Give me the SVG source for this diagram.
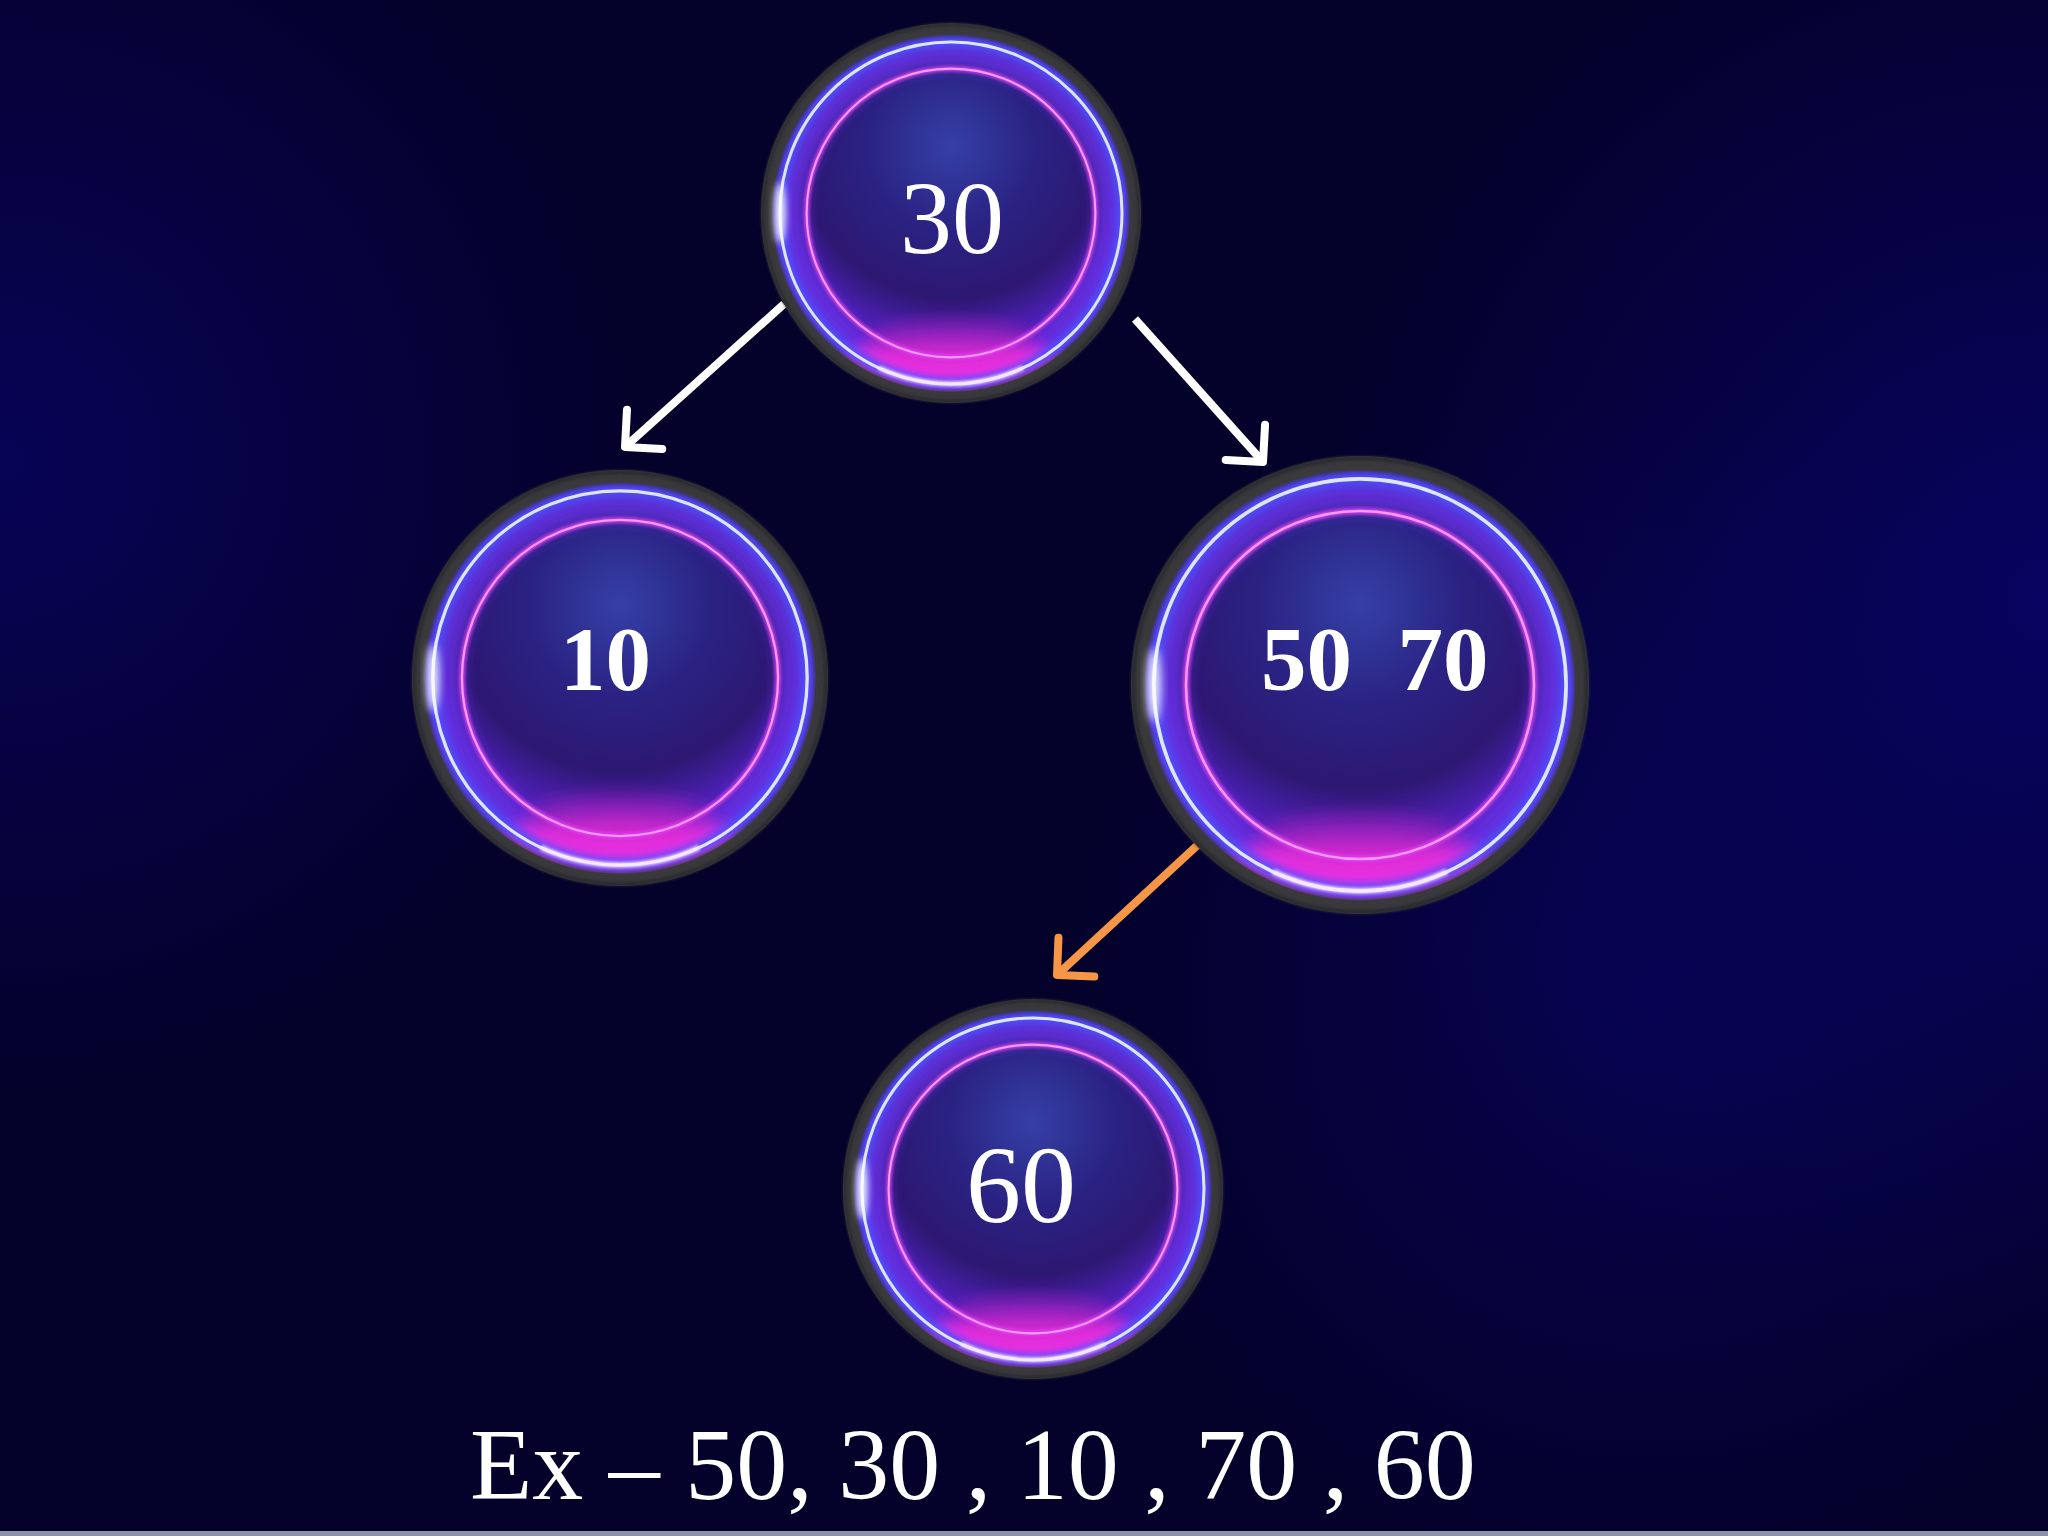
<svg xmlns="http://www.w3.org/2000/svg" xmlns:xlink="http://www.w3.org/1999/xlink" width="2048" height="1536" viewBox="0 0 2048 1536">
<defs>
<style>
.lbl{fill:#ffffff;font-family:"Liberation Serif","Times New Roman",serif;}
.b{font-weight:bold;}
.edge{fill:none;stroke-width:8;stroke-linecap:butt;}
</style>
<radialGradient id="bgL" cx="0" cy="460" r="650" gradientUnits="userSpaceOnUse">
<stop offset="0" stop-color="#08045e" stop-opacity="0.85"/>
<stop offset="1" stop-color="#08045e" stop-opacity="0"/>
</radialGradient>
<radialGradient id="bgR" cx="2048" cy="600" r="750" gradientUnits="userSpaceOnUse">
<stop offset="0" stop-color="#08046a" stop-opacity="0.85"/>
<stop offset="1" stop-color="#08046a" stop-opacity="0"/>
</radialGradient>
<radialGradient id="bgBR" cx="1650" cy="1000" r="600" gradientUnits="userSpaceOnUse">
<stop offset="0" stop-color="#08045e" stop-opacity="0.7"/>
<stop offset="1" stop-color="#08045e" stop-opacity="0"/>
</radialGradient>
<radialGradient id="inner" cx="0" cy="-35" r="100" gradientUnits="userSpaceOnUse">
<stop offset="0" stop-color="#3540a6"/>
<stop offset="0.45" stop-color="#2a2282"/>
<stop offset="0.8" stop-color="#2d1872"/>
<stop offset="1" stop-color="#4a20b0"/>
</radialGradient>
<filter id="blur2" x="-50%" y="-50%" width="200%" height="200%"><feGaussianBlur stdDeviation="2"/></filter>
<filter id="blur4" x="-50%" y="-50%" width="200%" height="200%"><feGaussianBlur stdDeviation="4"/></filter>
<filter id="blur1" x="-50%" y="-50%" width="200%" height="200%"><feGaussianBlur stdDeviation="0.8"/></filter>
<clipPath id="clipIn"><circle r="94"/></clipPath>
<g id="bubble">
<circle r="100" fill="#3a3a3c"/>
<circle r="99" fill="none" stroke="#2a2a30" stroke-width="2" filter="url(#blur1)"/>
<circle r="94" fill="url(#inner)"/>
<g clip-path="url(#clipIn)">
<circle r="84" fill="none" stroke="#6a30e8" stroke-width="14" opacity="0.85" filter="url(#blur4)"/>
<ellipse cx="0" cy="80" rx="62" ry="14" fill="#ff30e0" opacity="0.85" filter="url(#blur4)"/>
<ellipse cx="0" cy="66" rx="45" ry="10" fill="#b020c0" opacity="0.55" filter="url(#blur4)"/>
<circle r="90" fill="none" stroke="#5050ff" stroke-width="6" filter="url(#blur2)"/>
<circle r="76" fill="none" stroke="#e040f0" stroke-width="3" opacity="0.8" filter="url(#blur1)"/>
</g>
<circle r="94" fill="none" stroke="#3a3a3c" stroke-width="1.5" opacity="0.7" filter="url(#blur1)"/>
<circle r="90" fill="none" stroke="#dfe4ff" stroke-width="1.6"/>
<circle r="76" fill="none" stroke="#f39af8" stroke-width="1.1"/>
<ellipse cx="-90" cy="0" rx="3" ry="16" fill="#ffffff" opacity="0.9" filter="url(#blur2)"/>
<path d="M -38 81.5 A 90 90 0 0 0 38 81.5" fill="none" stroke="#ffe6ff" stroke-width="2.6" opacity="0.9" filter="url(#blur1)"/>
</g>
<marker id="headW" viewBox="-5 -5 10 10" markerWidth="10" markerHeight="10" refX="0" refY="0" orient="auto" markerUnits="strokeWidth" overflow="visible">
<path d="M -3.3 -3.3 L 0 0 L -3.3 3.3" fill="none" stroke="#ffffff" stroke-width="1" stroke-linecap="round" stroke-linejoin="round"/>
</marker>
<marker id="headO" viewBox="-5 -5 10 10" markerWidth="10" markerHeight="10" refX="0" refY="0" orient="auto" markerUnits="strokeWidth" overflow="visible">
<path d="M -3.3 -3.3 L 0 0 L -3.3 3.3" fill="none" stroke="#f79646" stroke-width="1" stroke-linecap="round" stroke-linejoin="round"/>
</marker>
</defs>
<rect width="2048" height="1536" fill="#04012a"/>
<rect width="2048" height="1536" fill="url(#bgL)"/>
<rect width="2048" height="1536" fill="url(#bgR)"/>
<rect width="2048" height="1536" fill="url(#bgBR)"/>
<rect x="0" y="1531" width="2048" height="5" fill="#8d93a6"/>
<g id="connectors">
<path class="edge" d="M 784 304 L 625 447" stroke="#ffffff" marker-end="url(#headW)"/>
<path class="edge" d="M 1135 319 L 1263 462" stroke="#ffffff" marker-end="url(#headW)"/>
<path class="edge" d="M 1202 841 L 1057 975" stroke="#f79646" marker-end="url(#headO)"/>
</g>
<g id="node-30">
<use xlink:href="#bubble" href="#bubble" transform="translate(951 213) scale(1.9)"/>
<text class="lbl" x="952" y="253" font-size="104" text-anchor="middle">30</text>
</g>
<g id="node-10">
<use xlink:href="#bubble" href="#bubble" transform="translate(620 678) scale(2.08)"/>
<text class="lbl b" x="560" y="690" font-size="91">10</text>
</g>
<g id="node-50-70">
<use xlink:href="#bubble" href="#bubble" transform="translate(1360 685) scale(2.29)"/>
<text class="lbl b" x="1261" y="690" font-size="91" style="white-space:pre" xml:space="preserve">50  70</text>
</g>
<g id="node-60">
<use xlink:href="#bubble" href="#bubble" transform="translate(1033 1189) scale(1.9)"/>
<text class="lbl" x="1021" y="1222" font-size="110" text-anchor="middle">60</text>
</g>
<text id="caption" class="lbl" x="470" y="1499" font-size="102">Ex – 50, 30 , 10 , 70 , 60</text>
</svg>
